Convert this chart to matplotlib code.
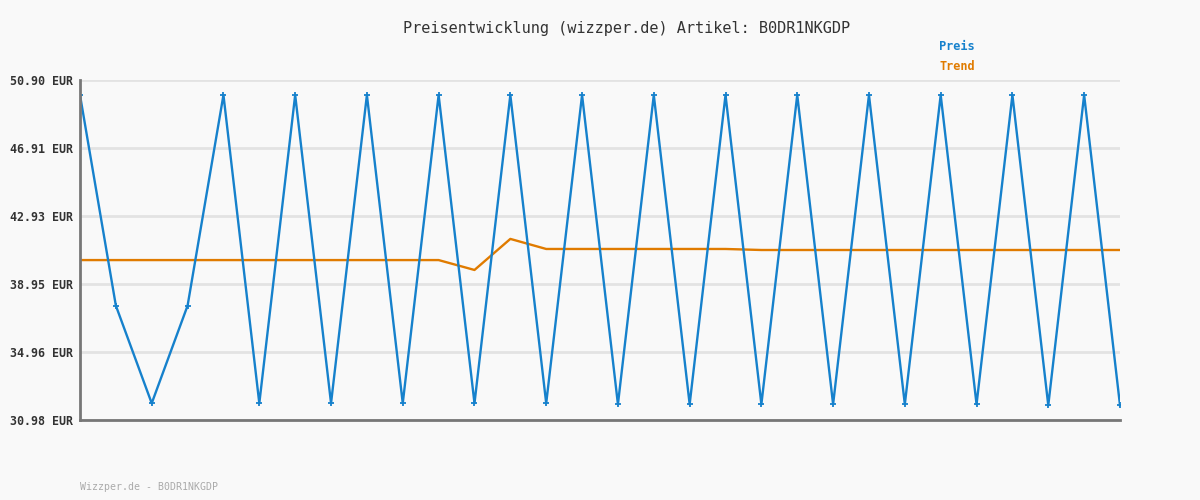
import matplotlib
matplotlib.use("Agg")
import matplotlib.pyplot as plt

price = [50.02, 37.68, 31.96, 37.68, 50.02, 31.96, 50.02, 31.96, 50.02, 31.96,
         50.02, 31.96, 50.02, 31.96, 50.02, 31.90, 50.02, 31.90, 50.02, 31.90,
         50.02, 31.90, 50.02, 31.90, 50.02, 31.90, 50.02, 31.84, 50.02, 31.84]
trend = [40.35] * 11 + [39.77, 41.59] + [41.00] * 6 + [40.94] * 11
yticks = [30.98, 34.96, 38.95, 42.93, 46.91, 50.90]
ytick_labels = ["%.2f EUR" % v for v in yticks]

BLUE = "#1681cc"
ORANGE = "#e07b00"
BG = "#f9f9f9"
MONO = ["DejaVu Sans Mono"]

fig = plt.figure(figsize=(12, 5), dpi=100, facecolor=BG)
ax = fig.add_axes([80/1200, 80/500, 1040/1200, 340/500], facecolor=BG)

x = list(range(len(price)))
ax.plot(x, trend, color=ORANGE, lw=1.7, zorder=3)
ax.plot(x, price, color=BLUE, lw=1.7, marker="+", ms=4.5, mew=1.3, zorder=4)

ax.set_xlim(0, len(price) - 1)
ax.set_ylim(yticks[0], yticks[-1])
ax.set_yticks(yticks)
ax.set_yticklabels(ytick_labels, family=MONO, fontsize=8.4, fontweight="bold", color="#333333")
ax.set_xticks([])
ax.tick_params(axis="y", length=0, pad=5)
ax.grid(axis="y", color="#e3e3e3", lw=2, zorder=0)
for s in ["top", "right"]:
    ax.spines[s].set_visible(False)
for s in ["left", "bottom"]:
    ax.spines[s].set_color("#777777")
    ax.spines[s].set_linewidth(2)
ax.spines["left"].set_zorder(5)

fig.text(403/1200, 1 - 28/500, "Preisentwicklung (wizzper.de) Artikel: B0DR1NKGDP",
         ha="left", va="center", family=MONO, fontsize=11, color="#333333")
fig.text(939/1200, 1 - 47/500, "Preis", ha="left", va="center", family=MONO,
         fontsize=8.6, fontweight="bold", color=BLUE)
fig.text(939/1200, 1 - 67/500, "Trend", ha="left", va="center", family=MONO,
         fontsize=8.6, fontweight="bold", color=ORANGE)
fig.text(80/1200, 1 - 487/500, "Wizzper.de - B0DR1NKGDP", ha="left", va="center",
         family=MONO, fontsize=7.1, color="#aaaaaa")

fig.savefig("out.png", dpi=100, facecolor=BG)
